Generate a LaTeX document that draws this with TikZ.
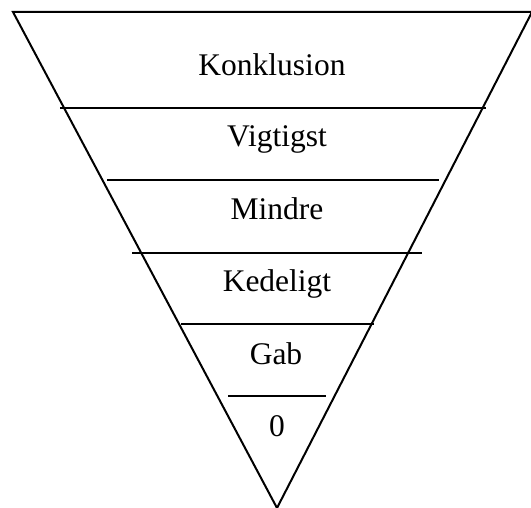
\documentclass[tikz,border=0pt]{standalone}
\usepackage{fontspec}
\setmainfont{Liberation Serif}
\usetikzlibrary{positioning}

\begin{document}
\begin{tikzpicture}[x=1pt, y=-1pt, line width=2pt, layer/.style={anchor=base, inner sep=0pt}, every node/.style={font=\fontsize{31.5}{36}\selectfont}]

  \useasboundingbox (0,0) rectangle (531,508);

  \coordinate (tl) at (13,12);
  \coordinate (tr) at (532,12);
  \coordinate (apex) at (277,508);
  \draw (tl) -- (tr) -- (apex) -- cycle;

  \coordinate (s1l) at (60,108);
  \coordinate (s1r) at (486,108);
  \coordinate (s2l) at (107,180);
  \coordinate (s2r) at (439,180);
  \coordinate (s3l) at (132,253);
  \coordinate (s3r) at (422,253);
  \coordinate (s4l) at (181,324);
  \coordinate (s4r) at (374,324);
  \coordinate (s5l) at (228,396);
  \coordinate (s5r) at (326,396);

  \node[layer] (konklusion) at (272,76) {Konklusion};
  \node[layer] (vigtigst) at (277,147) {Vigtigst};
  \node[layer] (mindre) at (277,220) {Mindre};
  \node[layer] (kedeligt) at (277,292) {Kedeligt};
  \node[layer] (gab) at (276,364) {Gab};
  \node[layer] (nul) at (277,436) {0};

  \path[draw]
    (s1l) -- (s1r)
    (s2l) -- (s2r)
    (s3l) -- (s3r)
    (s4l) -- (s4r)
    (s5l) -- (s5r)
  ;
\end{tikzpicture}
\end{document}
